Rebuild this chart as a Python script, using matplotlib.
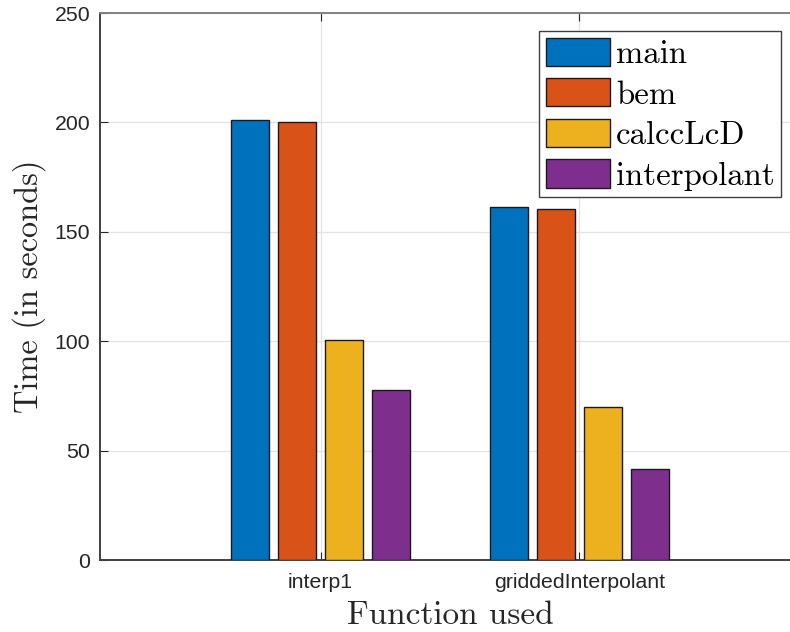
import matplotlib
matplotlib.use("Agg")
import matplotlib.pyplot as plt
import numpy as np

categories = ["interp1", "griddedInterpolant"]
series_names = ["main", "bem", "calccLcD", "interpolant"]
main_vals = [201.0, 161.3]
bem_vals = [200.4, 160.6]
calc_vals = [100.5, 69.8]
interp_vals = [77.7, 41.8]
yticks = [0, 50, 100, 150, 200, 250]

colors = ["#0072BD", "#D95319", "#EDB120", "#7E2F8E"]
values = [main_vals, bem_vals, calc_vals, interp_vals]
offsets = [-0.273, -0.091, 0.091, 0.273]
width = 0.1456

W, H = 790, 632
fig = plt.figure(figsize=(W / 100, H / 100), dpi=100)
ax = fig.add_axes([100 / W, (H - 560) / H, 700 / W, 547 / H])

x = np.arange(1, len(categories) + 1)
for name, vals, off, c in zip(series_names, values, offsets, colors):
    ax.bar(x + off, vals, width, color=c, edgecolor="#1a1a1a", linewidth=1.0,
           label=name, zorder=3)

ax.set_xlim(0.148, 2.852)
ax.set_ylim(0, 250)
ax.set_yticks(yticks)
ax.set_xticks(x)
ax.set_xticklabels(categories)
ax.grid(True, color="#e3e3e3", linewidth=0.9, zorder=0)
ax.set_axisbelow(True)

for lab in ax.get_xticklabels() + ax.get_yticklabels():
    lab.set_fontfamily("Liberation Sans")
    lab.set_fontsize(15.3)
    lab.set_color("#262626")

ax.tick_params(axis="both", direction="in", length=6, width=0.8, color="#262626",
               top=True, right=False)
ax.tick_params(axis="y", pad=7)
ax.tick_params(axis="x", pad=9)
for s in ["left", "bottom"]:
    ax.spines[s].set_color("#404040")
    ax.spines[s].set_linewidth(1.4)
ax.spines["top"].set_color("#808080")
ax.spines["top"].set_linewidth(1.4)
ax.spines["right"].set_visible(False)

ax.set_ylabel("Time (in seconds)", family="cmr10", fontsize=23.3, color="#262626", labelpad=6)
ax.set_xlabel("Function used", family="cmr10", fontsize=24, color="#262626", labelpad=7)

leg = ax.legend(loc="upper right", bbox_to_anchor=(781 / W, 1 - 31 / H),
                bbox_transform=fig.transFigure, borderaxespad=0,
                prop={"family": "cmr10", "size": 23.6}, fancybox=False,
                edgecolor="#404040", framealpha=1, handlelength=1.95,
                handleheight=0.95, labelspacing=0.28, handletextpad=0.18,
                borderpad=0.2)
leg.get_frame().set_linewidth(1.0)

fig.savefig("out.png", dpi=100)
